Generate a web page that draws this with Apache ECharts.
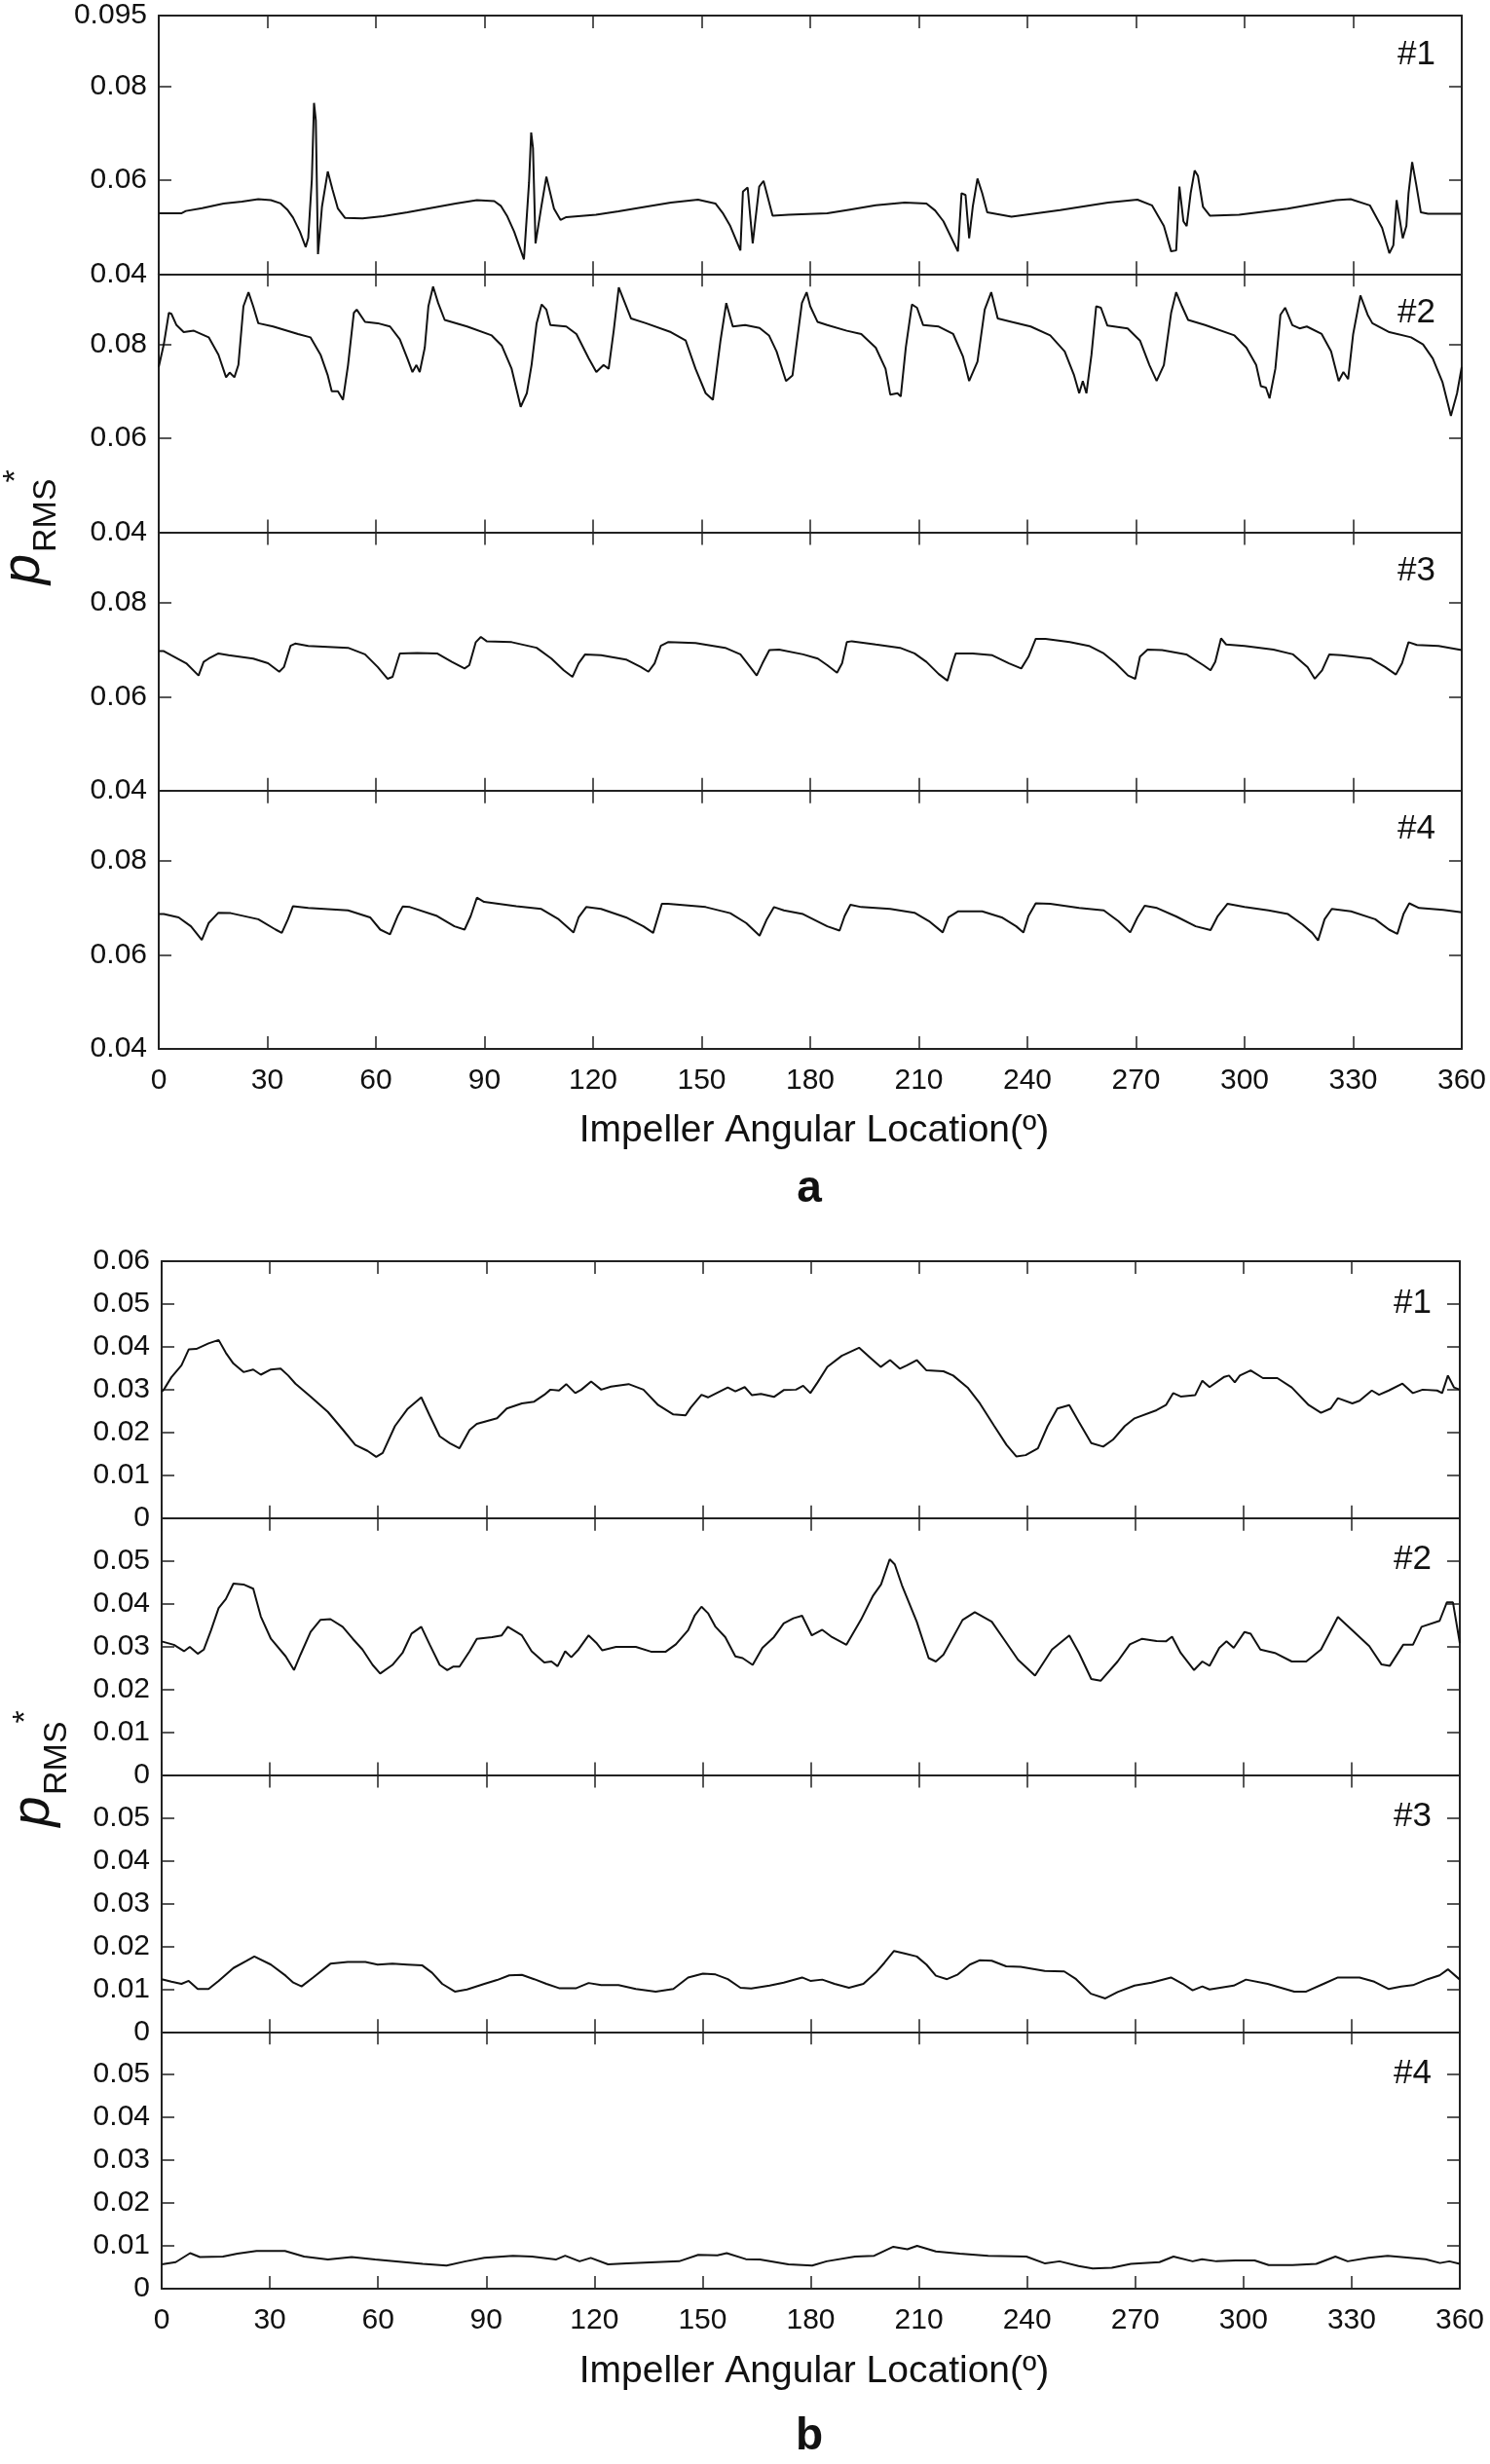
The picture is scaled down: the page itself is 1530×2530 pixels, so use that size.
<!DOCTYPE html>
<html>
<head>
<meta charset="utf-8">
<script src="https://cdn.jsdelivr.net/npm/echarts@6/dist/echarts.min.js"></script>
<style>
html,body{margin:0;padding:0;background:#fff;}
#chart{width:1530px;height:2530px;}
</style>
</head>
<body>
<div id="chart"></div>
<script>
// ---------- DATA (angle in degrees, p_RMS*) ----------
const xTicks = [0,30,60,90,120,150,180,210,240,270,300,330,360];
const panelNames = ['#1','#2','#3','#4'];

const a1 = [[0,0.0529],[6.2,0.0529],[7.5,0.0534],[12,0.0540],[17.9,0.0550],[23,0.0554],[27.5,0.0559],[31,0.0557],[33.7,0.0550],[35.5,0.0537],[37.1,0.0520],[39,0.0490],[40.6,0.0457],[41.3,0.0476],[42.3,0.0601],[42.9,0.0764],[43.4,0.0727],[44.0,0.0442],[45.1,0.0543],[46.7,0.0618],[48,0.0580],[49.5,0.0539],[51.5,0.0519],[56.3,0.0518],[62,0.0523],[68.7,0.0531],[75,0.0540],[82,0.0550],[87.9,0.0557],[92.7,0.0555],[94.5,0.0545],[96.2,0.0524],[98.2,0.0490],[100.9,0.0431],[102.3,0.0594],[102.9,0.0701],[103.4,0.0668],[104.1,0.0465],[105.7,0.0543],[107.1,0.0607],[109.2,0.0539],[111.0,0.0515],[112.6,0.0521],[120.8,0.0526],[127,0.0533],[134.6,0.0543],[141.5,0.0552],[149,0.0558],[153.8,0.0550],[155.8,0.0530],[157.9,0.0502],[160.7,0.0450],[161.4,0.0575],[162.7,0.0584],[164.1,0.0465],[165.9,0.0586],[167.1,0.0598],[169.6,0.0524],[174,0.0526],[184.7,0.0529],[191,0.0537],[198.1,0.0546],[206.1,0.0552],[212.1,0.0550],[214.5,0.0535],[216.8,0.0512],[220.8,0.0448],[221.8,0.0572],[222.9,0.0568],[223.9,0.0476],[224.9,0.0543],[226.2,0.0603],[227.5,0.0572],[228.9,0.0531],[235.6,0.0522],[249.0,0.0536],[262.3,0.0552],[270.4,0.0558],[274.4,0.0546],[277.7,0.0502],[279.7,0.0448],[281.1,0.0450],[282.0,0.0586],[283.1,0.0512],[284.0,0.0502],[285.1,0.0572],[286.2,0.0620],[287.1,0.0609],[288.5,0.0543],[290.4,0.0524],[298.5,0.0526],[311.9,0.0539],[325.3,0.0557],[329.3,0.0559],[334.6,0.0546],[338.0,0.0498],[340.0,0.0444],[341.1,0.0461],[342.0,0.0557],[343.7,0.0476],[344.7,0.0502],[345.3,0.0572],[346.3,0.0638],[347.4,0.0591],[348.7,0.0531],[350.7,0.0528],[360,0.0528]];

const a2 = [[0,0.0752],[1.4,0.0800],[2.8,0.0867],[3.5,0.0865],[4.9,0.0841],[6.9,0.0826],[9.7,0.0829],[13.8,0.0815],[16.5,0.0778],[18.6,0.0730],[19.6,0.0740],[20.9,0.0730],[22.0,0.0756],[23.4,0.0881],[24.8,0.0911],[26.1,0.0881],[27.5,0.0845],[31.6,0.0838],[38.5,0.0822],[41.9,0.0815],[44.7,0.0778],[46.7,0.0734],[47.8,0.0700],[49.5,0.0700],[50.9,0.0682],[52.3,0.0756],[53.9,0.0867],[54.7,0.0874],[57.0,0.0848],[60.5,0.0845],[63.9,0.0838],[66.6,0.0811],[68.7,0.0770],[70.1,0.0741],[71.2,0.0756],[72.1,0.0741],[73.5,0.0793],[74.5,0.0881],[75.8,0.0923],[77.2,0.0888],[79.0,0.0852],[85.2,0.0838],[92.0,0.0819],[94.8,0.0797],[97.5,0.0748],[100.0,0.0667],[101.7,0.0696],[103.0,0.0756],[104.4,0.0845],[105.8,0.0885],[107.1,0.0874],[108.2,0.0841],[112.6,0.0838],[115.4,0.0822],[118.8,0.0770],[120.9,0.0741],[122.9,0.0756],[124.3,0.0748],[125.7,0.0829],[127.1,0.0921],[128.4,0.0896],[130.5,0.0855],[134.6,0.0845],[141.5,0.0826],[145.6,0.0808],[148.3,0.0748],[151.1,0.0696],[153.1,0.0682],[155.2,0.0808],[156.8,0.0888],[158.6,0.0838],[162.0,0.0841],[166,0.0835],[168.6,0.0819],[170.7,0.0785],[173.3,0.0722],[175.1,0.0734],[176.7,0.0829],[177.7,0.0888],[179.0,0.0911],[180.0,0.0881],[182.0,0.0848],[184.7,0.0841],[190.1,0.0829],[194.1,0.0822],[198.1,0.0793],[200.8,0.0748],[202.1,0.0693],[204.1,0.0696],[205.0,0.0689],[206.4,0.0793],[208.1,0.0885],[209.5,0.0878],[211.2,0.0841],[215.5,0.0838],[219.5,0.0822],[222.2,0.0774],[223.9,0.0722],[226.2,0.0763],[228.2,0.0874],[230.0,0.0911],[231.8,0.0855],[235.6,0.0848],[240.9,0.0838],[246.3,0.0819],[250.3,0.0785],[252.9,0.0734],[254.3,0.0696],[255.3,0.0722],[256.3,0.0696],[257.7,0.0778],[259.0,0.0881],[260.3,0.0878],[262.1,0.0840],[267.7,0.0834],[271.1,0.0808],[273.7,0.0756],[275.7,0.0722],[277.7,0.0756],[279.7,0.0867],[281.1,0.0911],[282.7,0.0881],[284.4,0.0852],[289.1,0.0841],[297.2,0.0819],[300.5,0.0793],[303.2,0.0756],[304.5,0.0711],[305.9,0.0708],[306.9,0.0685],[308.5,0.0748],[309.9,0.0863],[311.2,0.0878],[313.2,0.0841],[315.2,0.0834],[317.2,0.0838],[321.3,0.0822],[323.9,0.0785],[326.0,0.0722],[327.3,0.0741],[328.6,0.0726],[330.0,0.0822],[332.0,0.0904],[334.0,0.0863],[335.3,0.0845],[340.0,0.0826],[346.0,0.0815],[349.3,0.0800],[352.0,0.0770],[354.7,0.0719],[357.0,0.0648],[358.7,0.0696],[360,0.0752]];

const a3 = [[0,0.0697],[1.4,0.0697],[3.5,0.0688],[7.6,0.0671],[11.0,0.0645],[12.4,0.0674],[13.8,0.0681],[16.5,0.0692],[19.3,0.0688],[26.1,0.0681],[30.2,0.0671],[33.3,0.0653],[34.6,0.0663],[36.4,0.0708],[37.7,0.0713],[41.3,0.0708],[52.3,0.0704],[57.0,0.0690],[60.5,0.0663],[63.2,0.0638],[64.6,0.0642],[66.6,0.0692],[71.4,0.0693],[76.9,0.0692],[81.0,0.0674],[84.5,0.0660],[85.8,0.0667],[87.6,0.0716],[89.0,0.0727],[90.6,0.0718],[97.5,0.0716],[104.4,0.0704],[108.5,0.0681],[111.9,0.0656],[114.3,0.0642],[116.0,0.0671],[117.8,0.0690],[122.2,0.0688],[129.1,0.0679],[133.2,0.0663],[135.3,0.0653],[137.0,0.0671],[138.7,0.0708],[140.7,0.0716],[148.3,0.0714],[156.5,0.0704],[160.7,0.0690],[163.4,0.0663],[165.2,0.0645],[166.8,0.0671],[168.7,0.0699],[171.4,0.0700],[178.0,0.0690],[182.1,0.0681],[184.7,0.0667],[187.4,0.0651],[188.8,0.0671],[190.1,0.0716],[191.5,0.0718],[198.1,0.0711],[204.8,0.0704],[208.8,0.0692],[212.1,0.0674],[215.5,0.0648],[217.9,0.0634],[219.3,0.0671],[220.2,0.0692],[224.9,0.0692],[230.3,0.0688],[234.9,0.0671],[238.3,0.0660],[240.3,0.0685],[242.3,0.0723],[245.0,0.0723],[251.7,0.0716],[257.0,0.0708],[261.1,0.0692],[264.4,0.0671],[267.8,0.0645],[269.8,0.0638],[271.1,0.0685],[273.2,0.0700],[277.2,0.0699],[283.9,0.0690],[288.6,0.0667],[290.6,0.0656],[291.9,0.0674],[293.5,0.0724],[294.9,0.0711],[300.0,0.0708],[308.0,0.0700],[313.4,0.0690],[317.4,0.0663],[319.4,0.0638],[321.4,0.0656],[323.4,0.0690],[326.8,0.0688],[334.8,0.0681],[338.8,0.0663],[341.8,0.0647],[343.5,0.0671],[345.3,0.0716],[347.6,0.0710],[353.6,0.0708],[360,0.0699]];

const a4 = [[0,0.0687],[1.4,0.0687],[5.5,0.0680],[8.9,0.0661],[11.9,0.0632],[13.8,0.0668],[16.5,0.0690],[19.9,0.0689],[27.5,0.0676],[32.3,0.0654],[34.0,0.0647],[35.7,0.0676],[37.1,0.0704],[41.3,0.0700],[52.3,0.0695],[58.4,0.0680],[61.2,0.0654],[63.9,0.0644],[66.0,0.0683],[67.4,0.0703],[69.4,0.0702],[76.9,0.0683],[81.7,0.0661],[84.5,0.0654],[86.2,0.0683],[87.9,0.0722],[89.9,0.0713],[98.8,0.0704],[105.7,0.0698],[110.5,0.0676],[114.6,0.0648],[116.0,0.0680],[118.1,0.0702],[122.2,0.0698],[129.1,0.0680],[133.9,0.0661],[136.6,0.0647],[139.0,0.0709],[140.7,0.0709],[151.1,0.0702],[157.9,0.0689],[162.3,0.0668],[166.0,0.0641],[168.0,0.0676],[170.0,0.0702],[172.7,0.0695],[178.0,0.0687],[184.7,0.0661],[188.1,0.0652],[189.5,0.0683],[191.1,0.0707],[194.1,0.0702],[202.1,0.0698],[208.8,0.0690],[212.8,0.0672],[216.6,0.0648],[218.2,0.0680],[220.9,0.0693],[227.5,0.0693],[232.9,0.0680],[236.9,0.0661],[238.9,0.0648],[240.3,0.0683],[242.3,0.0710],[246.3,0.0709],[254.3,0.0700],[261.1,0.0695],[265.1,0.0672],[268.4,0.0648],[270.4,0.0680],[272.4,0.0705],[275.8,0.0700],[281.1,0.0682],[286.5,0.0661],[290.6,0.0653],[292.6,0.0683],[295.3,0.0709],[300.0,0.0702],[306.6,0.0695],[312.0,0.0687],[316.0,0.0665],[318.7,0.0647],[320.3,0.0631],[322.1,0.0676],[324.1,0.0698],[329.4,0.0693],[336.1,0.0676],[339.9,0.0654],[342.2,0.0645],[343.9,0.0687],[345.5,0.0710],[348.2,0.0700],[354.9,0.0696],[360,0.0691]];

const b1 = [[0,0.0295],[0.6,0.0300],[2.7,0.0329],[5.5,0.0357],[7.5,0.0394],[9.6,0.0395],[13.0,0.0408],[15.8,0.0416],[17.8,0.0386],[19.9,0.0361],[22.7,0.0341],[25.4,0.0347],[27.5,0.0335],[30.3,0.0347],[33.0,0.0349],[35.1,0.0333],[37.1,0.0314],[41.3,0.0284],[46.1,0.0248],[50.2,0.0207],[53.7,0.0171],[57.1,0.0157],[59.5,0.0143],[61.3,0.0152],[64.7,0.0215],[68.1,0.0254],[72.0,0.0282],[74.3,0.0240],[77.1,0.0191],[79.9,0.0175],[82.6,0.0163],[85.4,0.0206],[87.4,0.0220],[93.0,0.0233],[95.7,0.0256],[99.9,0.0268],[103.3,0.0272],[106.1,0.0288],[107.8,0.0300],[110.2,0.0298],[112.2,0.0313],[114.7,0.0292],[116.4,0.0300],[119.1,0.0319],[121.9,0.0300],[124.6,0.0307],[129.5,0.0313],[133.6,0.0300],[137.7,0.0264],[141.9,0.0242],[145.3,0.0240],[146.7,0.0258],[149.7,0.0288],[151.5,0.0282],[157.0,0.0305],[159.1,0.0296],[161.7,0.0306],[163.7,0.0287],[166.2,0.0290],[169.8,0.0283],[172.5,0.0299],[175.9,0.0300],[177.9,0.0309],[179.9,0.0292],[181.9,0.0317],[184.6,0.0353],[188.6,0.0379],[193.4,0.0398],[196.7,0.0373],[199.4,0.0353],[202.0,0.0369],[204.7,0.0349],[206.7,0.0357],[209.4,0.0369],[212.1,0.0345],[216.8,0.0343],[219.5,0.0333],[223.5,0.0305],[226.9,0.0268],[230.9,0.0215],[234.3,0.0171],[237.0,0.0144],[239.6,0.0147],[243.0,0.0163],[245.7,0.0215],[248.4,0.0256],[251.7,0.0264],[254.4,0.0224],[257.8,0.0175],[261.1,0.0167],[263.8,0.0183],[267.1,0.0215],[269.8,0.0233],[275.9,0.0252],[278.5,0.0264],[280.5,0.0292],[282.6,0.0284],[286.6,0.0287],[288.6,0.0321],[290.6,0.0306],[294.7,0.0330],[296.0,0.0333],[297.6,0.0317],[299.0,0.0333],[302.0,0.0345],[305.4,0.0327],[309.4,0.0327],[313.4,0.0305],[318.1,0.0264],[321.5,0.0246],[324.2,0.0256],[326.2,0.0280],[330.2,0.0268],[332.2,0.0274],[335.6,0.0298],[337.6,0.0288],[340.3,0.0298],[344.1,0.0314],[347.0,0.0292],[349.7,0.0300],[353.7,0.0298],[355.1,0.0292],[356.7,0.0333],[358.4,0.0305],[360,0.0300]];

const b2 = [[0,0.0312],[3.4,0.0304],[6.2,0.0289],[7.8,0.0299],[10.0,0.0283],[11.7,0.0293],[13.7,0.0338],[15.8,0.0390],[17.8,0.0411],[19.9,0.0447],[22.7,0.0445],[25.4,0.0435],[27.5,0.0370],[30.3,0.0318],[34.4,0.0277],[36.7,0.0245],[38.5,0.0281],[41.3,0.0334],[44.0,0.0362],[46.8,0.0364],[50.2,0.0346],[53.0,0.0318],[55.7,0.0293],[58.5,0.0257],[60.6,0.0237],[64.0,0.0257],[66.8,0.0285],[69.3,0.0330],[72.0,0.0346],[74.3,0.0305],[77.1,0.0257],[79.2,0.0245],[80.8,0.0253],[82.6,0.0253],[85.4,0.0289],[87.4,0.0318],[91.6,0.0322],[94.3,0.0326],[96.0,0.0346],[99.9,0.0326],[102.6,0.0289],[106.1,0.0263],[108.1,0.0265],[109.8,0.0254],[111.9,0.0289],[113.6,0.0275],[115.6,0.0293],[118.4,0.0326],[120.5,0.0309],[122.2,0.0291],[126.0,0.0299],[131.5,0.0299],[135.7,0.0288],[139.8,0.0288],[142.6,0.0305],[146.0,0.0338],[147.8,0.0372],[149.7,0.0393],[151.5,0.0378],[153.6,0.0346],[156.3,0.0322],[159.1,0.0277],[161.1,0.0273],[163.9,0.0257],[166.6,0.0297],[169.8,0.0322],[172.5,0.0354],[175.2,0.0366],[177.6,0.0372],[180.3,0.0326],[183.2,0.0339],[185.9,0.0322],[189.9,0.0304],[193.9,0.0362],[197.3,0.0419],[199.5,0.0445],[201.9,0.0504],[203.3,0.0492],[205.3,0.0443],[209.4,0.0358],[212.7,0.0273],[214.7,0.0265],[216.8,0.0281],[222.1,0.0362],[225.5,0.0380],[230.2,0.0358],[233.5,0.0318],[237.5,0.0269],[242.2,0.0232],[246.9,0.0293],[251.7,0.0326],[254.4,0.0285],[257.8,0.0224],[260.4,0.0220],[265.1,0.0265],[268.5,0.0305],[271.9,0.0318],[275.9,0.0313],[278.5,0.0312],[280.2,0.0323],[282.6,0.0285],[286.3,0.0245],[288.6,0.0265],[290.6,0.0255],[293.3,0.0297],[295.3,0.0312],[297.3,0.0297],[300.3,0.0334],[302.0,0.0330],[304.7,0.0293],[308.7,0.0285],[313.4,0.0265],[317.4,0.0265],[321.5,0.0293],[326.2,0.0369],[330.2,0.0338],[334.9,0.0301],[338.3,0.0258],[340.6,0.0255],[344.3,0.0304],[347.0,0.0304],[349.4,0.0346],[354.4,0.0360],[356.4,0.0403],[358.1,0.0403],[360,0.0308]];

const b3 = [[0,0.0123],[2.7,0.0117],[5.5,0.0112],[7.5,0.0119],[10.0,0.0100],[13.0,0.0100],[15.8,0.0119],[19.9,0.0149],[23.4,0.0165],[25.7,0.0176],[30.3,0.0157],[34.4,0.0131],[36.5,0.0115],[38.8,0.0106],[42.0,0.0127],[46.8,0.0159],[51.6,0.0163],[56.5,0.0163],[59.9,0.0157],[64.0,0.0159],[68.1,0.0157],[72.3,0.0155],[75.0,0.0138],[77.8,0.0112],[81.3,0.0094],[84.7,0.0099],[89.5,0.0112],[93.0,0.0121],[96.4,0.0132],[99.9,0.0133],[103.3,0.0123],[106.7,0.0112],[110.2,0.0102],[115.0,0.0102],[118.4,0.0114],[121.9,0.0109],[126.7,0.0109],[131.5,0.0100],[137.0,0.0094],[141.9,0.0100],[146.0,0.0127],[150.1,0.0136],[153.6,0.0134],[157.0,0.0123],[160.5,0.0103],[163.5,0.0101],[168.6,0.0108],[172.5,0.0115],[177.6,0.0127],[179.9,0.0119],[183.2,0.0122],[186.6,0.0112],[190.6,0.0103],[194.6,0.0112],[198.0,0.0138],[200.4,0.0161],[203.1,0.0189],[206.0,0.0183],[209.4,0.0176],[212.1,0.0157],[214.7,0.0131],[217.8,0.0123],[220.8,0.0134],[224.1,0.0157],[226.8,0.0167],[230.2,0.0166],[234.2,0.0153],[238.2,0.0152],[244.9,0.0142],[250.3,0.0141],[253.6,0.0123],[257.7,0.0089],[261.7,0.0078],[265.1,0.0093],[269.8,0.0108],[274.5,0.0115],[279.9,0.0127],[283.2,0.0112],[285.9,0.0097],[288.6,0.0106],[290.6,0.0099],[297.3,0.0108],[300.7,0.0122],[306.7,0.0112],[314.1,0.0094],[317.4,0.0094],[322.2,0.0112],[326.2,0.0127],[332.2,0.0127],[336.3,0.0117],[340.3,0.0100],[343.7,0.0106],[347.0,0.0109],[351.1,0.0123],[354.4,0.0132],[356.7,0.0146],[360,0.0122]];

const b4 = [[0,0.0057],[3.9,0.0062],[7.9,0.0083],[10.6,0.0074],[17.0,0.0075],[21.0,0.0082],[26.3,0.0088],[34.2,0.0088],[39.5,0.0075],[46.1,0.0068],[52.7,0.0074],[59.2,0.0068],[65.8,0.0063],[72.4,0.0058],[79.0,0.0054],[84.3,0.0064],[89.5,0.0072],[97.4,0.0077],[102.7,0.0075],[109.3,0.0068],[111.9,0.0077],[115.9,0.0064],[119.0,0.0072],[123.8,0.0057],[129.0,0.0059],[137.0,0.0062],[143.5,0.0064],[148.8,0.0079],[154.1,0.0078],[156.7,0.0083],[162.0,0.0069],[165.9,0.0068],[173.8,0.0057],[180.4,0.0054],[184.4,0.0064],[192.3,0.0075],[197.6,0.0077],[202.9,0.0098],[206.8,0.0092],[209.5,0.0100],[214.7,0.0087],[221.3,0.0082],[229.2,0.0077],[239.8,0.0075],[245.0,0.0059],[249.0,0.0064],[254.3,0.0053],[258.2,0.0047],[263.5,0.0049],[268.8,0.0058],[276.7,0.0062],[280.6,0.0075],[285.9,0.0064],[288.5,0.0069],[292.5,0.0064],[297.8,0.0066],[303.1,0.0066],[307.0,0.0055],[313.6,0.0055],[320.2,0.0058],[325.5,0.0075],[328.9,0.0064],[334.7,0.0072],[340.0,0.0077],[345.3,0.0073],[350.5,0.0069],[354.5,0.0060],[357.1,0.0064],[360,0.0058]];

// ---------- LAYOUT ----------
const FONT = '"Liberation Sans", Arial, Helvetica, sans-serif';
const INK = '#111';
const FRAME = '#222';
const TICK_FS = 30;
const groups = [
  {series:[a1,a2,a3,a4], left:163, width:1338, top:16, h:265.25, min:0.04, max:0.095, interval:0.02,
   fmt:v => Math.abs(v-0.095)<1e-6 ? '0.095' : v.toFixed(2), labelRight:1474, labelDy:40},
  {series:[b1,b2,b3,b4], left:166, width:1333, top:1295, h:263.75, min:0, max:0.06, interval:0.01,
   fmt:v => Math.abs(v)<1e-9 ? '0' : v.toFixed(2), labelRight:1470, labelDy:43}
];

const grid=[], xAxis=[], yAxis=[], series=[], graphic=[];
function txt(x,y,text,o){
  return {type:'text', x:x, y:y, rotation:o.rot||0, silent:true,
    style:{text:text, fill:INK, fontFamily:FONT, fontSize:o.size, fontStyle:o.style||'normal',
      fontWeight:o.weight||'normal', align:o.align||'center', textAlign:o.align||'center',
      verticalAlign:'middle', textVerticalAlign:'middle'}};
}
let gi = 0;
groups.forEach((g, k) => {
  g.series.forEach((data, p) => {
    const top = g.top + p*g.h;
    grid.push({left:g.left, top:top, width:g.width, height:g.h, containLabel:false});
    const isBottom = p === 3;
    const xBase = {type:'value', gridIndex:gi, min:0, max:360, interval:30,
      axisLine:{show:true, onZero:false, lineStyle:{color:FRAME, width:2}},
      axisTick:{show:true, inside:true, length:13, lineStyle:{color:FRAME, width:1.5}},
      splitLine:{show:false}};
    xAxis.push(Object.assign({}, xBase, {position:'bottom',
      axisLabel:{show:isBottom, margin:18, fontSize:TICK_FS, color:INK, fontFamily:FONT}}));
    xAxis.push(Object.assign({}, xBase, {position:'top', axisLabel:{show:false}}));
    const yBase = {type:'value', gridIndex:gi, min:g.min, max:g.max, interval:g.interval,
      axisLine:{show:true, onZero:false, lineStyle:{color:FRAME, width:2}},
      axisTick:{show:true, inside:true, length:13, lineStyle:{color:FRAME, width:1.5}},
      splitLine:{show:false}};
    const first = p === 0;
    yAxis.push(Object.assign({}, yBase, {position:'left',
      axisLabel:{show:true, margin:12, fontSize:TICK_FS, color:INK, fontFamily:FONT,
        formatter: v => (!first && Math.abs(v-g.max)<1e-9) ? '' : g.fmt(v)}}));
    yAxis.push(Object.assign({}, yBase, {position:'right', axisLabel:{show:false}}));
    series.push({type:'line', xAxisIndex:2*gi, yAxisIndex:2*gi, data:data, symbol:'none',
      showSymbol:false, lineStyle:{color:INK, width:2}, animation:false});
    graphic.push(txt(g.labelRight, top + g.labelDy, panelNames[p], {size:35, align:'right'}));
    gi++;
  });
});

// axis titles
graphic.push(txt(836, 1161, 'Impeller Angular Location(º)', {size:39}));
graphic.push(txt(836, 2435, 'Impeller Angular Location(º)', {size:39}));
graphic.push(txt(831, 1221, 'a', {size:46, weight:'bold'}));
graphic.push(txt(831, 2502, 'b', {size:46, weight:'bold'}));
// y-axis label p_RMS* (rotated)
const R = Math.PI/2;
[[24.6,584.5,47.2,567,17,489],[34.6,1860,58.2,1843,27,1763]].forEach(c => {
  graphic.push(txt(c[0], c[1], 'p', {size:56, style:'italic', rot:R}));
  graphic.push(txt(c[2], c[3], 'RMS', {size:34, align:'left', rot:R}));
  graphic.push(txt(c[4], c[5], '*', {size:34, rot:R}));
});

const chart = echarts.init(document.getElementById('chart'), null, {renderer:'canvas'});
chart.setOption({backgroundColor:'#fff', animation:false, grid, xAxis, yAxis, series, graphic});
</script>
</body>
</html>
